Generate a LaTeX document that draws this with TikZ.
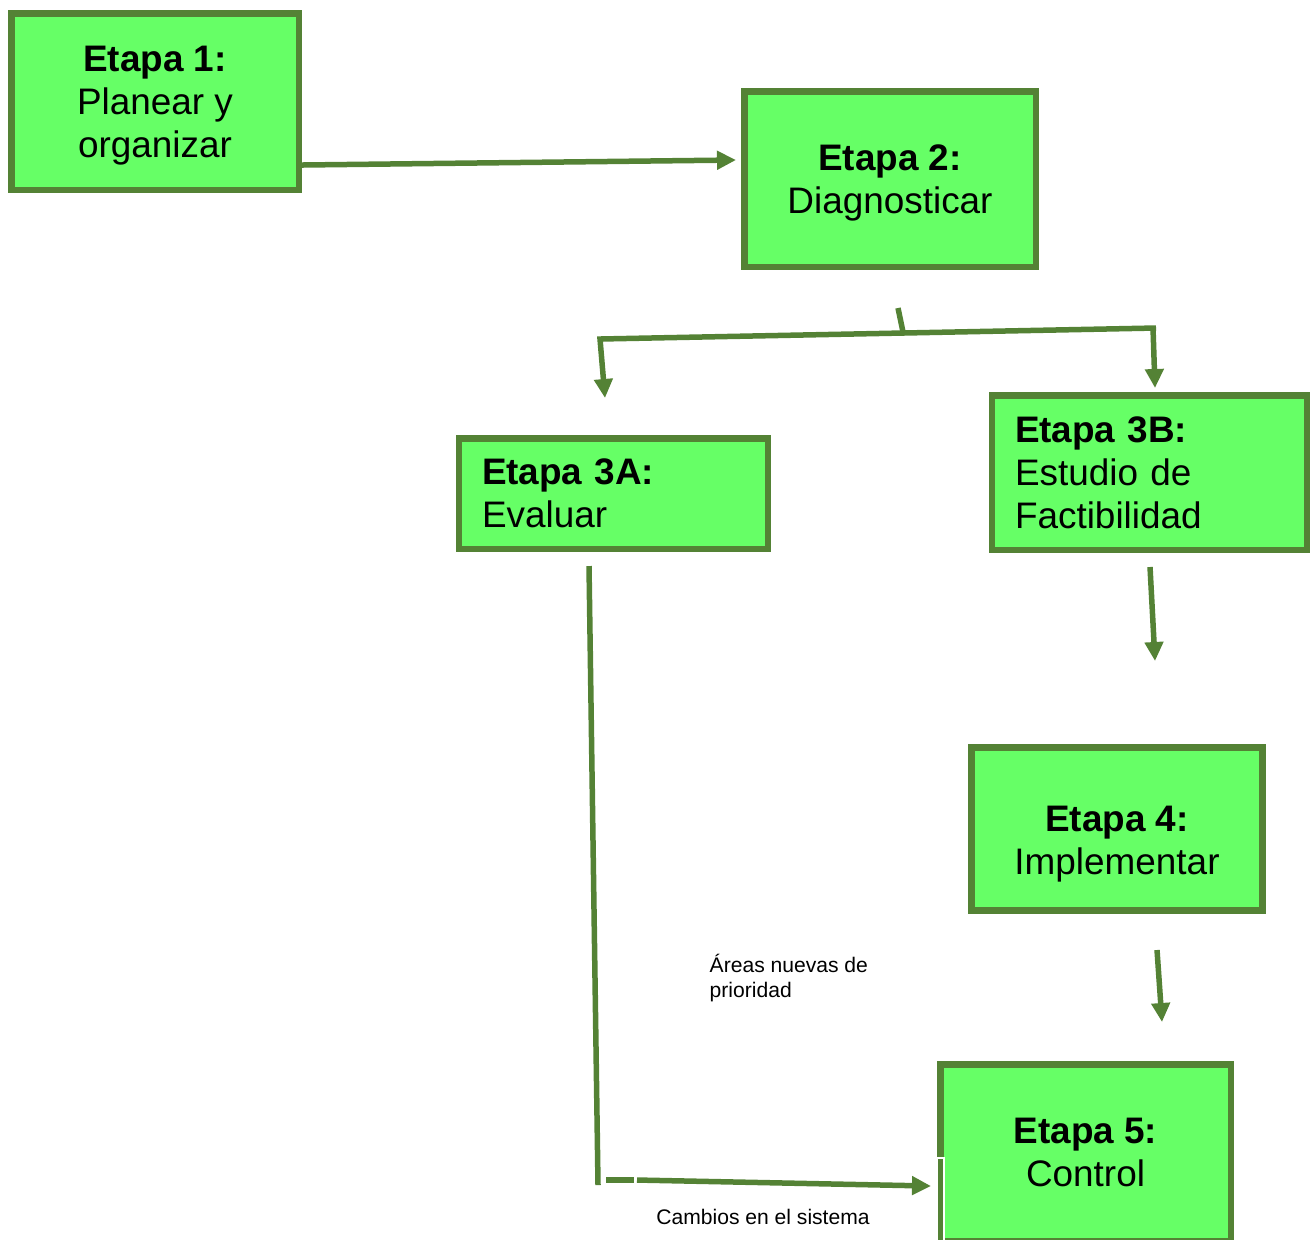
\documentclass[tikz,border=0pt]{standalone}
\usepackage{fontspec}
\setmainfont{Liberation Sans}
\usetikzlibrary{arrows.meta}
\definecolor{etapafill}{HTML}{66FF66}
\definecolor{etapaline}{HTML}{548235}
\begin{document}
\begin{tikzpicture}[x=0.1mm,y=-0.1mm,
  etapa/.style={draw=etapaline, fill=etapafill, line width=0.65mm, font=\fontsize{10.5}{12.2}\selectfont},
  flow/.style={draw=etapaline, line width=0.55mm},
  arr/.style={flow, -{Triangle[length=1.9mm,width=1.8mm]}},
  note/.style={font=\fontsize{6}{7.1}\selectfont, inner sep=0pt}]
\useasboundingbox (0,0) rectangle (1310,1239);

\node[etapa, align=center, text depth=0pt, minimum width=28.75mm, minimum height=17.65mm] (e1) at (155,101.5) {\textbf{Etapa 1:}\\Planear y\\organizar};
\node[etapa, align=center, text depth=0pt, minimum width=29.15mm, minimum height=17.55mm] (e2) at (890,179) {\textbf{Etapa 2:}\\Diagnosticar};
\node[etapa, align=left, inner xsep=2.28mm, text width=26.3mm, minimum height=11.05mm] (e3a) at (613.5,493.5) {\textbf{Etapa 3A:}\\Evaluar};
\node[etapa, align=left, inner xsep=2.28mm, text width=26.9mm, minimum height=15.45mm] (e3b) at (1149.5,472.5) {\textbf{Etapa 3B:}\\Estudio de\\Factibilidad};
\node[etapa, align=center, text depth=0pt, minimum width=29.14mm, minimum height=16.34mm] (e4) at (1117,829) {\rule{0pt}{13.5pt}\textbf{Etapa 4:}\\Implementar};
\node[etapa, align=center, minimum width=29.05mm, minimum height=17.65mm] (e5) at (1085.5,1152.5) {\textbf{Etapa 5:}\\Control};
\draw[white, line width=0.2mm] (937,1245) |- (944,1158) -- (944,1245);

\node[note, anchor=west, align=left] (areas) at (709,978) {Áreas nuevas de\\prioridad};
\node[note] (cambios) at (763,1217) {Cambios en el sistema};

% connector ends
\coordinate (e1out) at (302,165);
\coordinate (e2in) at (736,160);
\coordinate (e2stub) at (898,308);
\coordinate (fork) at (903,332);
\coordinate (forkl) at (600,339);
\coordinate (forkr) at (1153,328);
\coordinate (forkrend) at (1156,328);
\coordinate (e3ain) at (605,398);
\coordinate (e3bin) at (1155,388);
\coordinate (e3bout) at (1150,567);
\coordinate (e4in) at (1155,661);
\coordinate (e4out) at (1157,950);
\coordinate (e5in) at (1162,1022);
\coordinate (e3aout) at (589,566);
\coordinate (corner) at (598,1185);
\coordinate (ret) at (606,1180);
\coordinate (retgap) at (634,1180);
\coordinate (retgo) at (637,1180);
\coordinate (e5side) at (931,1186);

\path[arr] (e1out) -- (e2in);
\path[flow] (e2stub) -- (fork);
\path[arr] (forkrend) -- (forkl) -- (e3ain);
\path[arr] (forkr) -- (e3bin);
\path[arr] (e3bout) -- (e4in);
\path[arr] (e4out) -- (e5in);
\path[flow] (e3aout) -- (corner);
\path[flow] (ret) -- (retgap);
\path[arr] (retgo) -- (e5side);
\end{tikzpicture}
\end{document}
